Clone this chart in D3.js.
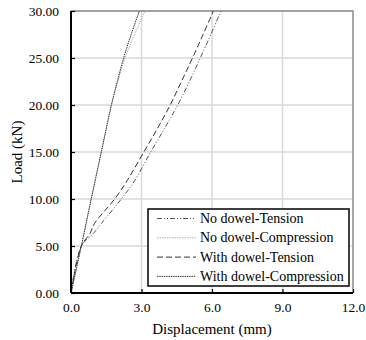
<!DOCTYPE html>
<html>
<head>
<meta charset="utf-8">
<script src="https://cdn.jsdelivr.net/npm/d3@7"></script>
<style>
  body { margin: 0; background: #fff; }
  svg { display: block; }
  svg text { font-family: "Liberation Serif", "Times New Roman", serif; fill: #000; }
  .grid line { stroke: #d9d9d9; stroke-width: 1.5; }
  .tick-label { font-size: 13.5px; }
  .axis-title { font-size: 15px; }
  .legend-label { font-size: 14px; }
</style>
</head>
<body>
<svg width="366" height="340"></svg>
<script>
// series names and load-displacement values (disp mm, load kN)
var seriesNames = ['No dowel-Tension', 'No dowel-Compression', 'With dowel-Tension', 'With dowel-Compression'];

var noDowelTension = [[0, 0], [0.44, 5], [0.94, 6.3], [1.29, 7.4], [2.14, 10], [2.72, 12], [3.39, 15],
  [3.98, 17.5], [4.54, 20], [5.04, 22.5], [5.5, 25], [5.95, 27.5], [6.38, 30]];
var noDowelCompression = [[0, 0], [0.44, 5], [0.86, 10], [1.29, 15], [1.72, 20], [1.99, 22.5],
  [2.3, 25], [2.7, 27.5], [3.15, 30]];
var withDowelTension = [[0, 0], [0.44, 5], [0.8, 6.3], [1.0, 7.4], [1.86, 10], [2.4, 12], [3.1, 15],
  [3.68, 17.5], [4.22, 20], [4.7, 22.5], [5.17, 25], [5.62, 27.5], [6.06, 30]];
var withDowelCompression = [[0, 0], [0.44, 5], [0.86, 10], [1.29, 15], [1.72, 20], [1.97, 22.5],
  [2.24, 25], [2.56, 27.5], [2.91, 30]];

var xTicks = [0, 3, 6, 9, 12];
var yTicks = [0, 5, 10, 15, 20, 25, 30];

var serif = "'Liberation Serif', 'Times New Roman', serif";

var svg = d3.select('svg');
var margin = {t: 11, r: 13, b: 47, l: 71};
var width = 366 - margin.l - margin.r;
var height = 340 - margin.t - margin.b;

var xScale = d3.scaleLinear().domain([0, 12]).range([0, width]);
var yScale = d3.scaleLinear().domain([0, 30]).range([height, 0]);

var g = svg.append('g').attr('transform', 'translate(' + [margin.l, margin.t] + ')');

g.append('clipPath').attr('id', 'clip')
  .append('rect').attr('width', width).attr('height', height);

// grid
g.append('g').attr('class', 'grid')
  .selectAll('line').data(yTicks.slice(1)).enter().append('line')
  .attr('x1', 0).attr('x2', width)
  .attr('y1', function(d) { return yScale(d); }).attr('y2', function(d) { return yScale(d); });
g.append('g').attr('class', 'grid')
  .selectAll('line').data(xTicks.slice(1, -1)).enter().append('line')
  .attr('y1', 0).attr('y2', height)
  .attr('x1', function(d) { return xScale(d); }).attr('x2', function(d) { return xScale(d); });

// top and right border
g.append('path')
  .attr('d', 'M0,0H' + width + 'V' + height)
  .attr('fill', 'none').attr('stroke', '#8c8c8c').attr('stroke-width', 1.5);

// curves
var line = d3.line()
  .x(function(d) { return xScale(d[0]); })
  .y(function(d) { return yScale(d[1]); })
  .curve(d3.curveCatmullRom.alpha(0.5));

var styles = [
  {data: noDowelTension, stroke: '#555', width: 1, dash: '5,2,1,2,1,2'},
  {data: noDowelCompression, stroke: '#b0b0b0', width: 1, dash: '1.5,1'},
  {data: withDowelTension, stroke: '#333', width: 1, dash: '6,3'},
  {data: withDowelCompression, stroke: '#333', width: 1, dash: '1.5,0.8'}
];

g.append('g').attr('clip-path', 'url(#clip)')
  .selectAll('path').data(styles).enter().append('path')
  .attr('d', function(d) { return line(d.data); })
  .attr('fill', 'none')
  .attr('stroke', function(d) { return d.stroke; })
  .attr('stroke-width', function(d) { return d.width; })
  .attr('stroke-dasharray', function(d) { return d.dash; });

// axes
var xAxis = d3.axisBottom(xScale).tickValues(xTicks).tickSize(-4).tickPadding(9)
  .tickFormat(d3.format('.1f'));
var yAxis = d3.axisLeft(yScale).tickValues(yTicks).tickSize(-4).tickPadding(12)
  .tickFormat(d3.format('.2f'));

var xg = g.append('g').attr('transform', 'translate(0,' + height + ')').call(xAxis);
var yg = g.append('g').call(yAxis);
[xg, yg].forEach(function(a) {
  a.attr('font-family', serif).attr('font-size', 13.5);
  a.select('.domain').attr('stroke', '#000').attr('stroke-width', 2);
  a.selectAll('.tick line').attr('stroke', '#000').attr('stroke-width', 1.2);
  a.selectAll('.tick text').attr('class', 'tick-label').style('font-family', serif);
});
xg.select('.domain').attr('d', 'M0,0H' + width);
yg.select('.domain').attr('d', 'M0,0V' + height);

// titles
svg.append('text').attr('class', 'axis-title').style('font-family', serif)
  .attr('x', margin.l + width / 2).attr('y', 334)
  .attr('text-anchor', 'middle').text('Displacement (mm)');
svg.append('text').attr('class', 'axis-title').style('font-family', serif)
  .attr('transform', 'translate(' + [22, margin.t + height / 2] + ') rotate(-90)')
  .attr('text-anchor', 'middle').text('Load (kN)');

// legend
var legend = svg.append('g').attr('transform', 'translate(148,209)');
legend.append('rect').attr('width', 201).attr('height', 77)
  .attr('fill', '#fff').attr('stroke', '#000').attr('stroke-width', 1.5);
var rows = legend.selectAll('g.row').data(styles).enter().append('g')
  .attr('transform', function(d, i) { return 'translate(0,' + (9.5 + i * 19.3) + ')'; });
rows.append('line').attr('x1', 9).attr('x2', 48).attr('y1', 0).attr('y2', 0)
  .attr('stroke', function(d) { return d.stroke; })
  .attr('stroke-width', function(d) { return d.width; })
  .attr('stroke-dasharray', function(d) { return d.dash; });
rows.append('text').attr('class', 'legend-label').style('font-family', serif)
  .attr('x', 52).attr('y', 4.5)
  .text(function(d, i) { return seriesNames[i]; });
</script>
</body>
</html>
